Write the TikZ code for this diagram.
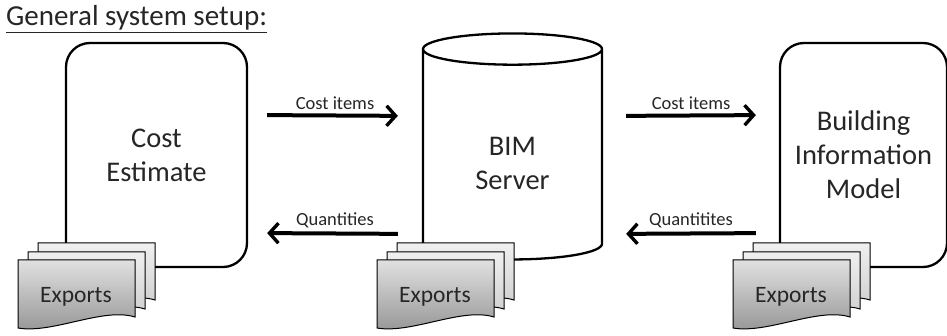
\documentclass[tikz,border=0pt]{standalone}
\usepackage{fontspec}
\setmainfont{Carlito}
\usepackage{tikz}
\usetikzlibrary{shapes,shapes.geometric,arrows.meta,positioning}

\begin{document}
\begin{tikzpicture}
		[x=1pt,y=-1pt,text=black!85,
		every node/.style={inner sep=1pt,align=center},
		block/.style={draw,line width=2.3pt,rounded corners=24pt,minimum height=224pt,
			font=\fontsize{28.5}{34}\selectfont},
		store/.style={draw,line width=2.3pt,cylinder,shape border rotate=90,aspect=0.41,
			minimum width=179pt,minimum height=226pt,font=\fontsize{28.5}{34}\selectfont},
		flow/.style={line width=4pt,-{Straight Barb[length=9pt,width=20pt,line width=3.4pt]}},
		lbl/.style={font=\fontsize{18.5}{22}\selectfont},
		sheet/.pic={\path[draw,line width=1pt,top color=#1!12,bottom color=#1!42]
			(0,0) -- (117,0) -- (117,57) .. controls (85,47) and (35,74) .. (0,68) -- cycle;}]
		\useasboundingbox (0,0) rectangle (947,336);
		\node[anchor=west,font=\fontsize{29}{34}\selectfont] (title) at (5,19) {\underline{General system setup:}};
		% the three parts
		\node[block,minimum width=181pt] (cost) at (156.5,155) {Cost\\Estimate};
		\node[store] (bim) at (512.5,156) {\mbox{}\\BIM\\Server};
		\node[block,minimum width=167pt] (model) at (863.5,155) {Building\\Information\\Model};
		% data flow
		\draw[flow,shorten <=19pt,shorten >=24pt] ([yshift=40pt]cost.east) -- node[lbl,above=3pt] (c1) {Cost items} ([yshift=40pt]bim.west);
		\draw[flow,shorten <=24pt,shorten >=19pt] ([yshift=-78pt]bim.west) -- node[lbl,above=3pt] (q1) {Quantities} ([yshift=-78pt]cost.east);
		\draw[flow,shorten <=23pt,shorten >=23pt] ([yshift=40pt]bim.east) -- node[lbl,above=3pt] (c2) {Cost items} ([yshift=40pt]model.west);
		\draw[flow,shorten <=23pt,shorten >=23pt] ([yshift=-78pt]model.west) -- node[lbl,above=3pt] (q2) {Quantitites} ([yshift=-78pt]bim.east);
		% exports
		\foreach \x/\n in {18/a,377/b,733/c}
		{
			\pic at (\x+20,243) {sheet=gray};
			\pic at (\x+10,252) {sheet=gray};
			\pic at (\x,260) {sheet=black};
			\node[font=\fontsize{23.5}{28}\selectfont] (exp\n) at (\x+58,297) {Exports};
		}
		\end{tikzpicture}
\end{document}
